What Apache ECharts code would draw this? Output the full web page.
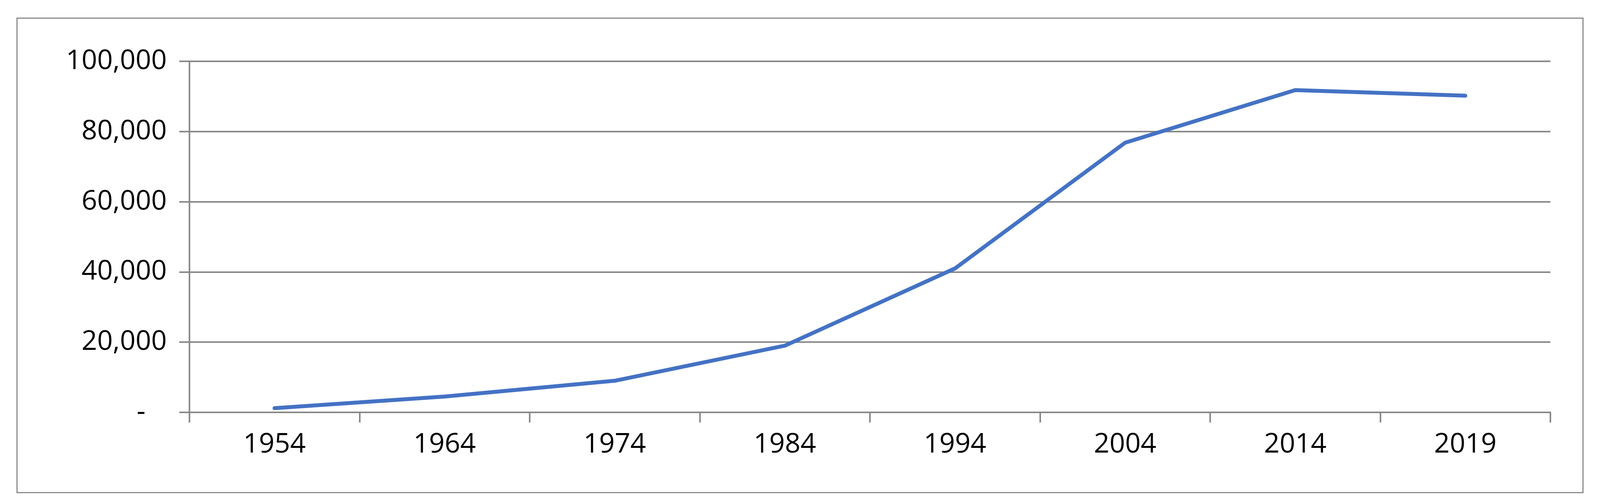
<!DOCTYPE html>
<html>
<head>
<meta charset="utf-8">
<script src="https://cdn.jsdelivr.net/npm/echarts@6/dist/echarts.min.js"></script>
<style>
  html, body { margin: 0; padding: 0; background: #fff; }
  #frame { position: absolute; left: 42px; top: 45px; width: 4012px; height: 1218px; border: 3px solid #8c8c8c; box-sizing: border-box; }
  #chart { width: 4108px; height: 1283px; }
</style>
</head>
<body>
<div id="frame"></div>
<div id="chart"></div>
<script>
const years = ['1954', '1964', '1974', '1984', '1994', '2004', '2014', '2019'];
const values = [1200, 4500, 9000, 19000, 41000, 76800, 91800, 90200];

const chart = echarts.init(document.getElementById('chart'));
chart.setOption({
  animation: false,
  grid: { left: 485, right: 4108 - 3969, top: 157, bottom: 1283 - 1056 },
  xAxis: {
    type: 'category',
    data: years,
    boundaryGap: true,
    axisLine: { lineStyle: { color: '#888', width: 4 } },
    axisTick: { show: true, length: 26, lineStyle: { color: '#888', width: 4 } },
    axisLabel: { color: '#000', fontSize: 70, fontFamily: 'Open Sans', margin: 48 },
  },
  yAxis: {
    type: 'value',
    min: 0,
    max: 100000,
    interval: 20000,
    axisLine: { show: true, lineStyle: { color: '#888', width: 4 } },
    axisTick: { show: true, length: 26, lineStyle: { color: '#888', width: 4 } },
    splitLine: { lineStyle: { color: '#888', width: 4 } },
    axisLabel: {
      color: '#000', fontSize: 70, fontFamily: 'Open Sans', margin: 58,
      formatter: (v) => (v === 0 ? '-   ' : v.toLocaleString('en-US')),
    },
  },
  series: [{
    type: 'line',
    data: values,
    symbol: 'none',
    lineStyle: { color: '#4472c4', width: 10, cap: 'round', join: 'round' },
  }],
});
</script>
</body>
</html>
